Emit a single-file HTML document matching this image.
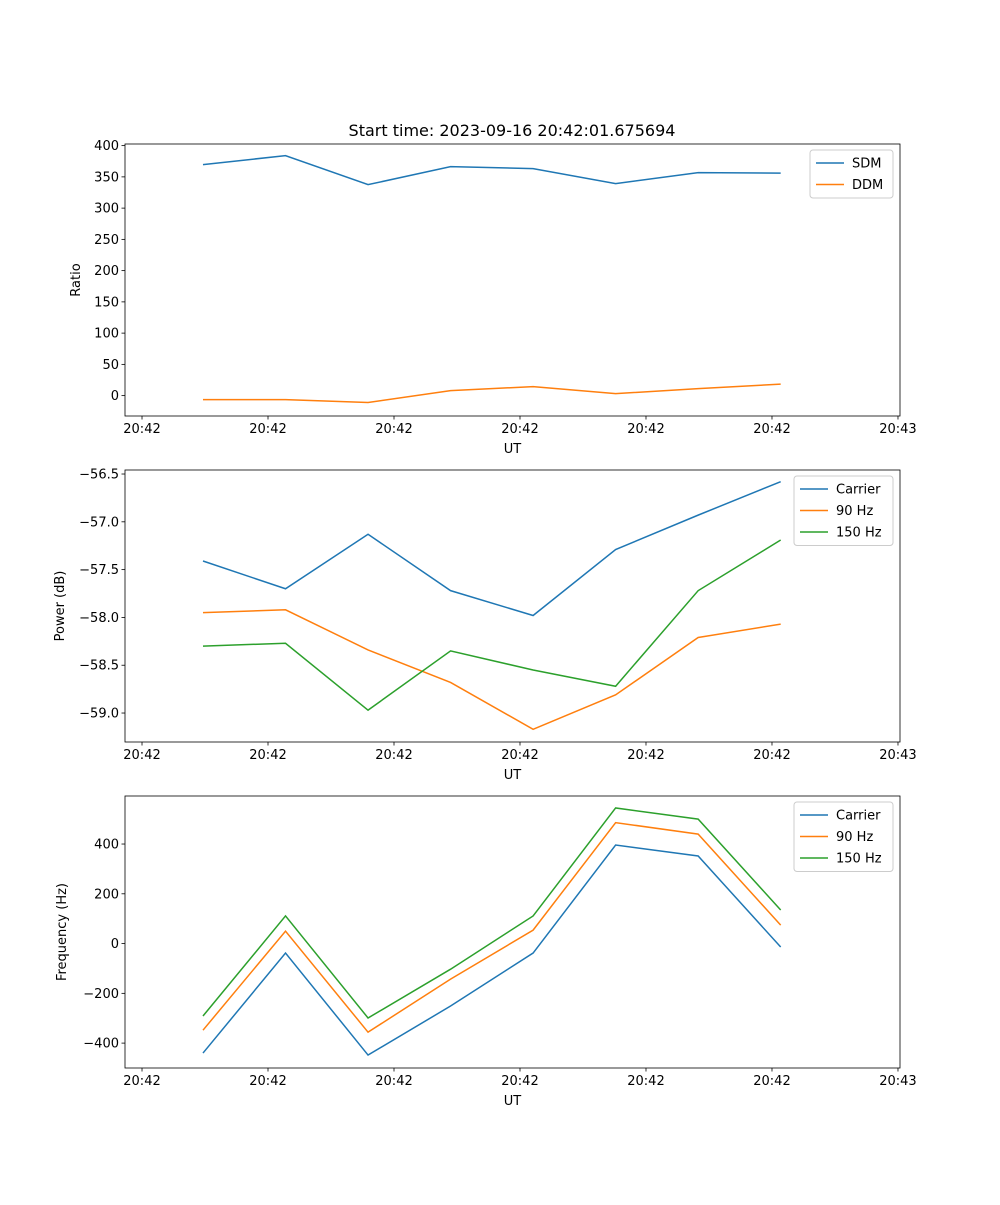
<!DOCTYPE html>
<html><head><meta charset="utf-8"><style>
body{margin:0;background:#fff}
svg{font-family:"DejaVu Sans","Liberation Sans",sans-serif}
</style></head><body>
<svg id="fig" width="1000" height="1200" viewBox="0 0 1000 1200"></svg>
<script>
const xTimes = [4.84, 11.39, 17.94, 24.49, 31.04, 37.59, 44.14, 50.69];
const xTickVals = [0, 10, 20, 30, 40, 50, 60];
const xTickLabels = ["20:42","20:42","20:42","20:42","20:42","20:42","20:43"];
const sdm = [369.6, 384, 337.6, 366.4, 363.2, 339.2, 356.8, 356];
const ddm = [-6.4, -6.4, -11, 8, 14.4, 3.2, 11.2, 18.4];
const powCarrier = [-57.41, -57.70, -57.13, -57.72, -57.98, -57.29, -56.93, -56.58];
const pow90 = [-57.95, -57.92, -58.34, -58.68, -59.17, -58.81, -58.21, -58.07];
const pow150 = [-58.30, -58.27, -58.97, -58.35, -58.55, -58.72, -57.72, -57.19];
const freqCarrier = [-440, -38, -448, -251, -38, 396, 352, -14];
const freq90 = [-348, 50, -356, -143, 54, 486, 440, 74];
const freq150 = [-291, 111, -299, -103, 111, 545, 500, 135];
const ratioTicks = [0,50,100,150,200,250,300,350,400];
const powTicks = [-59.0,-58.5,-58.0,-57.5,-57.0,-56.5];
const freqTicks = [-400,-200,0,200,400];

const NS="http://www.w3.org/2000/svg";
const svg=document.getElementById('fig');
function el(tag,attrs,parent){const e=document.createElementNS(NS,tag);for(const k in attrs)e.setAttribute(k,attrs[k]);(parent||svg).appendChild(e);return e;}
const X0=125,X1=900,xMin=-1.35,xMax=60.16;
const xs=v=>X0+(v-xMin)/(xMax-xMin)*(X1-X0);
const C=["#1f77b4","#ff7f0e","#2ca02c"];

function panel(name,top,bottom,yMin,yMax,yTicks,fmt,ylabel,series,labels,legendW,ylabelX){
  const g=el('g',{});
  
  
  const ys=v=>bottom-(v-yMin)/(yMax-yMin)*(bottom-top);
  series.forEach((s,i)=>{
    const p=el('polyline',{points:s.map((v,j)=>xs(xTimes[j])+','+ys(v)).join(' '),fill:'none',stroke:C[i],'stroke-width':1.5},g);
    
    
  });
  const fr=el('rect',{x:X0,y:top,width:X1-X0,height:bottom-top,fill:'none',stroke:'#000','stroke-width':0.8},g);
  
  
  xTickVals.forEach((v,i)=>{
    const x=xs(v);
    el('line',{x1:x,x2:x,y1:bottom,y2:bottom+3.5,stroke:'#000','stroke-width':0.8},g);
    const t=el('text',{x:x,y:bottom+17,'font-size':13,'text-anchor':'middle'},g);t.textContent=xTickLabels[i];
    
    
  });
  yTicks.forEach(v=>{
    const y=ys(v);
    el('line',{x1:X0-3.5,x2:X0,y1:y,y2:y,stroke:'#000','stroke-width':0.8},g);
    const t=el('text',{x:X0-6,y:y+4.5,'font-size':13,'text-anchor':'end'},g);t.textContent=fmt(v);
    
    
  });
  const xl=el('text',{x:(X0+X1)/2,y:bottom+37,'font-size':13,'text-anchor':'middle'},g);xl.textContent='UT';
  
  
  const yc=(top+bottom)/2;
  const yl=el('text',{x:ylabelX,y:yc,'font-size':13,'text-anchor':'middle',transform:`rotate(-90 ${ylabelX} ${yc})`},g);yl.textContent=ylabel;
  
  
  const lx=X1-7-legendW,ly=top+6,lh=labels.length*21.5+5;
  const lg=el('g',{},g);
  
  
  el('rect',{x:lx,y:ly,width:legendW,height:lh,rx:3,fill:'#fff','fill-opacity':0.8,stroke:'#ccc'},lg);
  labels.forEach((l,i)=>{
    const yy=ly+13+i*21.5;
    el('line',{x1:lx+6,x2:lx+34,y1:yy,y2:yy,stroke:C[i],'stroke-width':1.5},lg);
    const t=el('text',{x:lx+42,y:yy+4.5,'font-size':13},lg);t.textContent=l;
    
    
  });
}
const title=el('text',{x:512,y:136,'font-size':16,'text-anchor':'middle'});
title.textContent='Start time: 2023-09-16 20:42:01.675694';


panel('ratio',144,416,-32.6,402.6,ratioTicks,v=>String(v),'Ratio',[sdm,ddm],['SDM','DDM'],83,80);
panel('power',470,742,-59.303,-56.458,powTicks,v=>(v<0?'\u2212':'')+Math.abs(v).toFixed(1),'Power (dB)',[powCarrier,pow90,pow150],['Carrier','90 Hz','150 Hz'],99,64);
panel('frequency',796,1068,-500,593,freqTicks,v=>(v<0?'\u2212':'')+Math.abs(v),'Frequency (Hz)',[freqCarrier,freq90,freq150],['Carrier','90 Hz','150 Hz'],99,66);
</script>
</body></html>
